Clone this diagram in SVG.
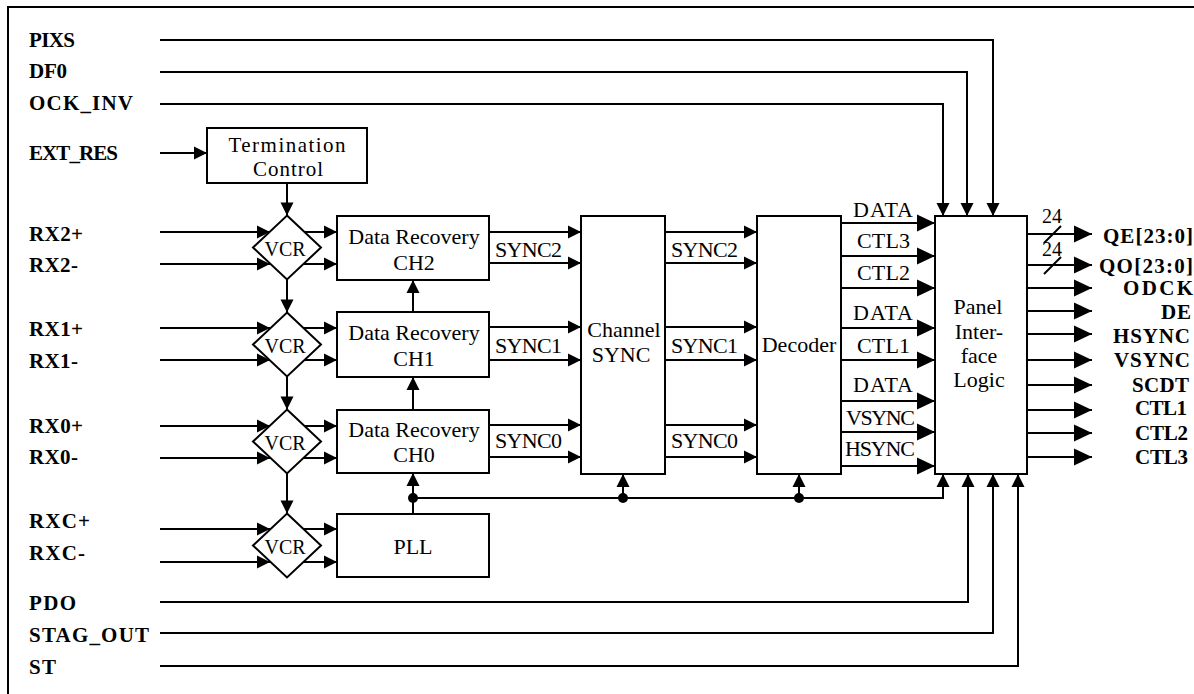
<svg xmlns="http://www.w3.org/2000/svg" width="1194" height="694" viewBox="0 0 1194 694">
<style>
.ln{fill:none;stroke:#000;stroke-width:2}
.box{fill:#fff;stroke:#000;stroke-width:2}
.t{font-family:"Liberation Serif","Times New Roman",serif;font-size:22px;fill:#000}
.tc{font-family:"Liberation Serif","Times New Roman",serif;font-size:21px;fill:#000;text-anchor:middle}
.c{text-anchor:middle}
.b{font-family:"Liberation Serif","Times New Roman",serif;font-size:21px;font-weight:bold;fill:#000}
.s{font-family:"Liberation Serif","Times New Roman",serif;font-size:20px;fill:#000}
</style>
<defs>
<marker id="a" markerUnits="userSpaceOnUse" markerWidth="14" markerHeight="14" refX="13" refY="6.5" orient="auto" overflow="visible"><path d="M0,0 L13,6.5 L0,13 z" fill="#000"/></marker>
<marker id="g" markerUnits="userSpaceOnUse" markerWidth="19" markerHeight="18" refX="18" refY="8.5" orient="auto" overflow="visible"><path d="M0,0 L18,8.5 L0,17 z" fill="#000"/></marker>
</defs>
<rect x="8" y="7" width="1200" height="700" fill="#fff" stroke="#000" stroke-width="2"/>

<g id="connectors">
<polyline class="ln" points="160,40 993,40 993,216" marker-end="url(#a)"/>
<polyline class="ln" points="160,72 967,72 967,216" marker-end="url(#a)"/>
<polyline class="ln" points="160,104 943,104 943,216" marker-end="url(#a)"/>
<line class="ln" x1="160" y1="153" x2="207" y2="153" marker-end="url(#a)"/>
<line class="ln" x1="287" y1="183" x2="287" y2="215.5" marker-end="url(#a)"/>
<line class="ln" x1="287" y1="279.5" x2="287" y2="312.5" marker-end="url(#a)"/>
<line class="ln" x1="287" y1="376.5" x2="287" y2="409.5" marker-end="url(#a)"/>
<line class="ln" x1="287" y1="473.5" x2="287" y2="513.5" marker-end="url(#a)"/>
<line class="ln" x1="160" y1="232" x2="270" y2="232" marker-end="url(#a)"/>
<line class="ln" x1="160" y1="264" x2="270" y2="264" marker-end="url(#a)"/>
<line class="ln" x1="160" y1="328" x2="270" y2="328" marker-end="url(#a)"/>
<line class="ln" x1="160" y1="360" x2="270" y2="360" marker-end="url(#a)"/>
<line class="ln" x1="160" y1="426" x2="270" y2="426" marker-end="url(#a)"/>
<line class="ln" x1="160" y1="458" x2="270" y2="458" marker-end="url(#a)"/>
<line class="ln" x1="160" y1="529" x2="270" y2="529" marker-end="url(#a)"/>
<line class="ln" x1="160" y1="562" x2="270" y2="562" marker-end="url(#a)"/>
<line class="ln" x1="304" y1="232" x2="337" y2="232" marker-end="url(#a)"/>
<line class="ln" x1="304" y1="264" x2="337" y2="264" marker-end="url(#a)"/>
<line class="ln" x1="304" y1="328" x2="337" y2="328" marker-end="url(#a)"/>
<line class="ln" x1="304" y1="360" x2="337" y2="360" marker-end="url(#a)"/>
<line class="ln" x1="304" y1="426" x2="337" y2="426" marker-end="url(#a)"/>
<line class="ln" x1="304" y1="458" x2="337" y2="458" marker-end="url(#a)"/>
<line class="ln" x1="304" y1="529" x2="337" y2="529" marker-end="url(#a)"/>
<line class="ln" x1="304" y1="562" x2="337" y2="562" marker-end="url(#a)"/>
<line class="ln" x1="413" y1="312" x2="413" y2="280" marker-end="url(#a)"/>
<line class="ln" x1="413" y1="410" x2="413" y2="377" marker-end="url(#a)"/>
<line class="ln" x1="413" y1="514" x2="413" y2="473" marker-end="url(#a)"/>
<polyline class="ln" points="413,498 943,498 943,474" marker-end="url(#a)"/>
<line class="ln" x1="623" y1="498" x2="623" y2="474" marker-end="url(#a)"/>
<line class="ln" x1="799" y1="498" x2="799" y2="474" marker-end="url(#a)"/>
<circle cx="413" cy="498" r="5" fill="#000"/>
<circle cx="623" cy="498" r="5" fill="#000"/>
<circle cx="799" cy="498" r="5" fill="#000"/>
<polyline class="ln" points="160,602 968,602 968,474" marker-end="url(#a)"/>
<polyline class="ln" points="160,633 993,633 993,474" marker-end="url(#a)"/>
<polyline class="ln" points="160,666 1018,666 1018,474" marker-end="url(#a)"/>
<line class="ln" x1="489" y1="232" x2="581" y2="232" marker-end="url(#a)"/>
<line class="ln" x1="489" y1="263" x2="581" y2="263" marker-end="url(#a)"/>
<line class="ln" x1="489" y1="327" x2="581" y2="327" marker-end="url(#a)"/>
<line class="ln" x1="489" y1="360" x2="581" y2="360" marker-end="url(#a)"/>
<line class="ln" x1="489" y1="425" x2="581" y2="425" marker-end="url(#a)"/>
<line class="ln" x1="489" y1="457" x2="581" y2="457" marker-end="url(#a)"/>
<line class="ln" x1="665" y1="232" x2="757" y2="232" marker-end="url(#a)"/>
<line class="ln" x1="665" y1="263" x2="757" y2="263" marker-end="url(#a)"/>
<line class="ln" x1="665" y1="327" x2="757" y2="327" marker-end="url(#a)"/>
<line class="ln" x1="665" y1="360" x2="757" y2="360" marker-end="url(#a)"/>
<line class="ln" x1="665" y1="425" x2="757" y2="425" marker-end="url(#a)"/>
<line class="ln" x1="665" y1="457" x2="757" y2="457" marker-end="url(#a)"/>
<line class="ln" x1="841" y1="223" x2="935" y2="223" marker-end="url(#g)"/>
<line class="ln" x1="841" y1="256" x2="935" y2="256" marker-end="url(#g)"/>
<line class="ln" x1="841" y1="288" x2="935" y2="288" marker-end="url(#g)"/>
<line class="ln" x1="841" y1="328" x2="935" y2="328" marker-end="url(#g)"/>
<line class="ln" x1="841" y1="360" x2="935" y2="360" marker-end="url(#g)"/>
<line class="ln" x1="841" y1="401" x2="935" y2="401" marker-end="url(#g)"/>
<line class="ln" x1="841" y1="432" x2="935" y2="432" marker-end="url(#g)"/>
<line class="ln" x1="841" y1="466" x2="935" y2="466" marker-end="url(#g)"/>
<line class="ln" x1="1027" y1="234" x2="1092" y2="234" marker-end="url(#g)"/>
<line class="ln" x1="1027" y1="265" x2="1092" y2="265" marker-end="url(#g)"/>
<line class="ln" x1="1027" y1="288" x2="1092" y2="288" marker-end="url(#g)"/>
<line class="ln" x1="1027" y1="311" x2="1092" y2="311" marker-end="url(#g)"/>
<line class="ln" x1="1027" y1="334" x2="1092" y2="334" marker-end="url(#g)"/>
<line class="ln" x1="1027" y1="360" x2="1092" y2="360" marker-end="url(#g)"/>
<line class="ln" x1="1027" y1="385" x2="1092" y2="385" marker-end="url(#g)"/>
<line class="ln" x1="1027" y1="410" x2="1092" y2="410" marker-end="url(#g)"/>
<line class="ln" x1="1027" y1="433" x2="1092" y2="433" marker-end="url(#g)"/>
<line class="ln" x1="1027" y1="457" x2="1092" y2="457" marker-end="url(#g)"/>
<line class="ln" x1="1044" y1="243" x2="1061" y2="226"/>
<line class="ln" x1="1044" y1="274" x2="1061" y2="257"/>
<text class="s" x="1042" y="223">24</text>
<text class="s" x="1042" y="256">24</text>
<text class="t" x="495" y="257" textLength="67">SYNC2</text>
<text class="t" x="671" y="257" textLength="67">SYNC2</text>
<text class="t" x="495" y="353" textLength="67">SYNC1</text>
<text class="t" x="671" y="353" textLength="67">SYNC1</text>
<text class="t" x="495" y="448" textLength="67">SYNC0</text>
<text class="t" x="671" y="448" textLength="67">SYNC0</text>
<text class="t" x="853" y="217" textLength="60">DATA</text>
<text class="t" x="857" y="248" textLength="53">CTL3</text>
<text class="t" x="857" y="280" textLength="53">CTL2</text>
<text class="t" x="853" y="320" textLength="60">DATA</text>
<text class="t" x="857" y="353" textLength="53">CTL1</text>
<text class="t" x="853" y="392" textLength="60">DATA</text>
<text class="t" x="846" y="425" textLength="69">VSYNC</text>
<text class="t" x="845" y="456" textLength="70">HSYNC</text>
</g>

<g id="term">
<rect class="box" x="207" y="128" width="160" height="55"/>
<text class="tc" x="287" y="152" textLength="117">Termination</text>
<text class="tc" x="288" y="176" textLength="70">Control</text>
</g>
<g id="vcr2"><polygon class="box" points="287,215.5 321,247.5 287,279.5 253,247.5"/><text class="s c" x="285" y="256">VCR</text></g>
<g id="vcr1"><polygon class="box" points="287,312.5 321,344.5 287,376.5 253,344.5"/><text class="s c" x="285" y="353">VCR</text></g>
<g id="vcr0"><polygon class="box" points="287,409.5 321,441.5 287,473.5 253,441.5"/><text class="s c" x="285" y="450">VCR</text></g>
<g id="vcrc"><polygon class="box" points="287,513.5 321,545.5 287,577.5 253,545.5"/><text class="s c" x="285" y="554">VCR</text></g>
<g id="dr2"><rect class="box" x="337" y="216" width="152" height="64"/><text class="t c" x="414" y="244">Data Recovery</text><text class="t c" x="414" y="270">CH2</text></g>
<g id="dr1"><rect class="box" x="337" y="312" width="152" height="65"/><text class="t c" x="414" y="340">Data Recovery</text><text class="t c" x="414" y="366">CH1</text></g>
<g id="dr0"><rect class="box" x="337" y="410" width="152" height="63"/><text class="t c" x="414" y="437">Data Recovery</text><text class="t c" x="414" y="462">CH0</text></g>
<g id="pll"><rect class="box" x="337" y="514" width="152" height="63"/><text class="t c" x="413" y="554">PLL</text></g>
<g id="chsync"><rect class="box" x="581" y="216" width="84" height="258"/><text class="t c" x="624" y="337">Channel</text><text class="t c" x="621" y="362">SYNC</text></g>
<g id="decoder"><rect class="box" x="757" y="216" width="84" height="258"/><text class="t c" x="799" y="352">Decoder</text></g>
<g id="panel"><rect class="box" x="935" y="216" width="92" height="258"/>
<text class="t c" x="978" y="314">Panel</text><text class="t c" x="979" y="339">Inter-</text><text class="t c" x="979" y="363">face</text><text class="t c" x="979" y="387">Logic</text></g>

<g id="inputs">
<text class="b" x="29" y="47" textLength="46">PIXS</text>
<text class="b" x="29" y="78" textLength="38">DF0</text>
<text class="b" x="29" y="110" textLength="104">OCK_INV</text>
<text class="b" x="29" y="160" textLength="89">EXT_RES</text>
<text class="b" x="29" y="241" textLength="54">RX2+</text>
<text class="b" x="29" y="272" textLength="49">RX2-</text>
<text class="b" x="29" y="336" textLength="54">RX1+</text>
<text class="b" x="29" y="368" textLength="49">RX1-</text>
<text class="b" x="29" y="433" textLength="54">RX0+</text>
<text class="b" x="29" y="464" textLength="49">RX0-</text>
<text class="b" x="29" y="528" textLength="61">RXC+</text>
<text class="b" x="29" y="560" textLength="56">RXC-</text>
<text class="b" x="29" y="610" textLength="47">PDO</text>
<text class="b" x="29" y="642" textLength="120">STAG_OUT</text>
<text class="b" x="29" y="674" textLength="27">ST</text>
</g>
<g id="outputs">
<text class="b" x="1103" y="243" textLength="90">QE[23:0]</text>
<text class="b" x="1099" y="273" textLength="94">QO[23:0]</text>
<text class="b" x="1123" y="295" textLength="70">ODCK</text>
<text class="b" x="1161" y="319" textLength="30">DE</text>
<text class="b" x="1113" y="343" textLength="77">HSYNC</text>
<text class="b" x="1114" y="367" textLength="76">VSYNC</text>
<text class="b" x="1132" y="392" textLength="57">SCDT</text>
<text class="b" x="1135" y="415" textLength="52">CTL1</text>
<text class="b" x="1135" y="440" textLength="53">CTL2</text>
<text class="b" x="1135" y="464" textLength="53">CTL3</text>
</g>
</svg>
